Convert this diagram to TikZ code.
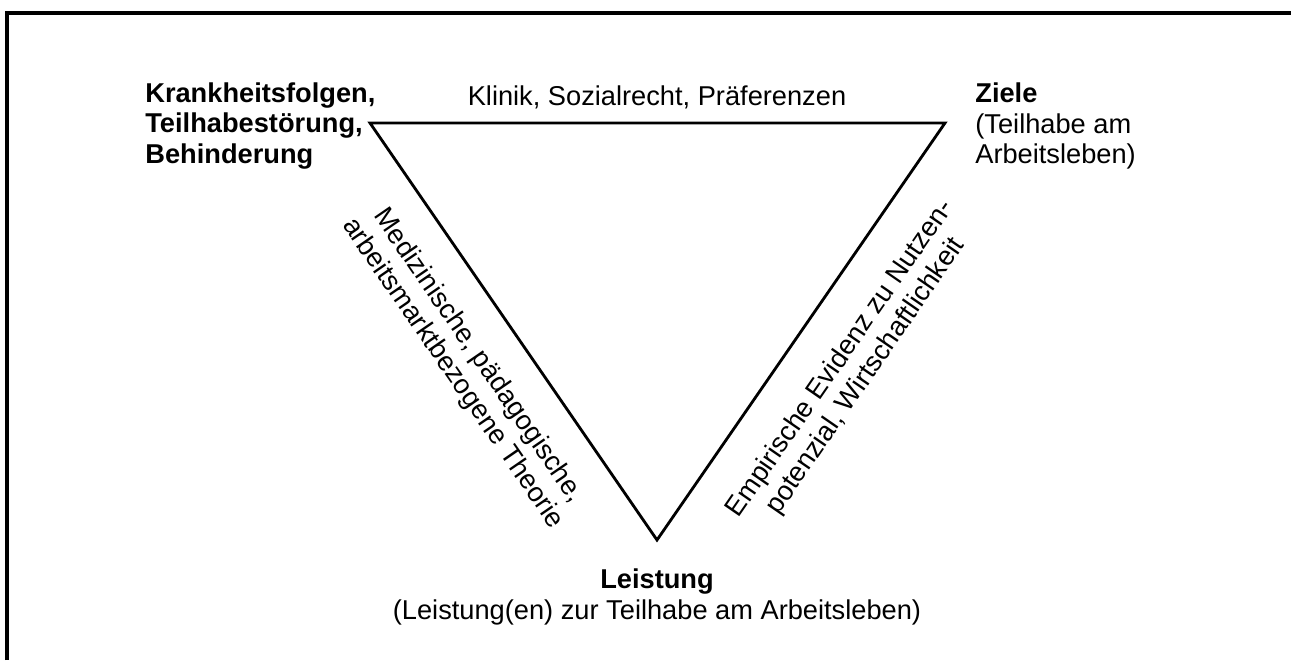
\documentclass[tikz,border=0pt]{standalone}
\usepackage{fontspec}
\setmainfont{Liberation Sans}
\usetikzlibrary{positioning}

\begin{document}
\begin{tikzpicture}[x=0.02cm, y=-0.02cm,
  cornerlabel/.style={align=left, inner sep=0pt, font=\fontsize{15.5}{17.6}\selectfont},
  sidelabel/.style={align=center, inner sep=0pt, sloped, midway, font=\fontsize{15.5}{17.6}\selectfont},
  edge/.style={line width=1.6pt, line join=miter}
]
  \useasboundingbox (0,0) rectangle (1291,660);
  % frame (only top and left edge visible)
  \draw[line width=2pt] (7,660) -- (7,13) -- (1291,13);

  % triangle
  \coordinate (kf) at (370,123);
  \coordinate (zi) at (945,123);
  \coordinate (le) at (657,540);
  \draw[edge] (kf) -- (zi) -- (le) -- cycle;

  % corners
  \node[cornerlabel, anchor=west] (folgen) at (145,126)
    {\textbf{Krankheitsfolgen,}\\\textbf{Teilhabestörung,}\\\textbf{Behinderung}};
  \node[cornerlabel, anchor=west] (ziele) at (975,126)
    {\textbf{Ziele}\\(Teilhabe am\\Arbeitsleben)};
  \node[cornerlabel, align=center, anchor=north] (leistung) at (657,568)
    {\textbf{Leistung}\\(Leistung(en) zur Teilhabe am Arbeitsleben)};

  % sides
  \node[cornerlabel, anchor=base] (klinik) at (657,105) {Klinik, Sozialrecht, Präferenzen};
  \path (kf) -- node[sidelabel, below=0.6cm] (theorie)
    {Medizinische, pädagogische,\\arbeitsmarktbezogene Theorie} (le);
  \path (le) -- node[sidelabel, below=0.7cm] (evidenz)
    {Empirische Evidenz zu Nutzen-\\potenzial, Wirtschaftlichkeit} (zi);
\end{tikzpicture}
\end{document}
